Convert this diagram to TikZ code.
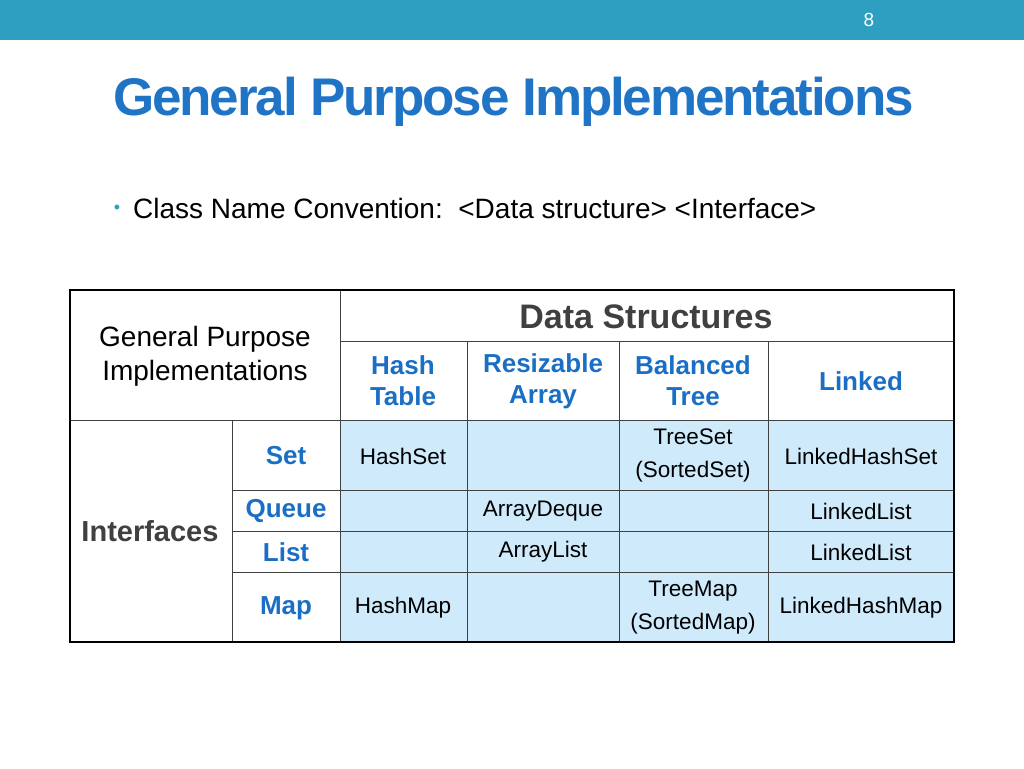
\documentclass[tikz,border=0pt]{standalone}
\usepackage{fontspec}
\setmainfont{Liberation Sans}
\definecolor{barteal}{HTML}{2E9FC0}
\definecolor{titleblue}{HTML}{1F74C6}
\definecolor{headblue}{HTML}{1A6FC4}
\definecolor{cellblue}{HTML}{CFEAFB}
\definecolor{darkgray}{HTML}{404040}
\tikzset{
  cell/.style={align=center, font=\fontsize{22.5}{33}\selectfont, inner sep=0pt},
  head/.style={align=center, font=\fontsize{26}{31}\selectfont\bfseries, text=headblue, inner sep=0pt},
  grid/.style={line width=1pt, draw=darkgray},
}
\begin{document}
\begin{tikzpicture}[x=1pt,y=-1pt]
	\useasboundingbox (0,0) rectangle (1024,768);
	\fill[barteal] (0,0) rectangle (1024,40);
	\node[text=white, font=\fontsize{19}{20}\selectfont] (page) at (869,20) {8};
	\node[anchor=base west, text=titleblue, font=\fontsize{53}{58}\selectfont\bfseries, inner sep=0pt] (title) at (113,115) {\addfontfeature{LetterSpace=-4}General Purpose Implementations};
	\node[text=barteal, font=\fontsize{18}{20}\selectfont, inner sep=0pt] (bullet) at (117,209) {•};
	\node[anchor=west, font=\fontsize{28}{32}\selectfont, inner sep=0pt] (conv) at (133,208) {Class Name Convention:\ \ <Data structure> <Interface>};
	% table
	\fill[cellblue] (340,420) rectangle (954,642);
	\draw[grid] (340,341) -- (954,341);
	\draw[grid] (70,420) -- (954,420);
	\draw[grid] (232,490) -- (954,490);
	\draw[grid] (232,531) -- (954,531);
	\draw[grid] (232,572) -- (954,572);
	\draw[grid] (232,420) -- (232,642);
	\draw[grid] (340,290) -- (340,642);
	\foreach \x in {467,619,768}
		\draw[grid] (\x,341) -- (\x,642);
	\draw[line width=2.5pt] (70,290) rectangle (954,642);
	% headers
	\node[font=\fontsize{34}{38}\selectfont\bfseries, text=darkgray, inner sep=0pt] (ds) at (646,317) {Data Structures};
	\node[align=center, font=\fontsize{28}{34}\selectfont, inner sep=0pt] (gpi) at (205,356) {General Purpose\\Implementations};
	\node[head] (hash) at (403,381) {Hash\\Table};
	\node[head] (resz) at (543,381) {Resizable\\Array};
	\node[head] (bal) at (693,381) {Balanced\\Tree};
	\node[head] (lnk) at (861,381) {Linked};
	\node[font=\fontsize{29}{32}\selectfont\bfseries, text=darkgray, inner sep=0pt] (intf) at (150,531) {Interfaces};
	\node[head] (set) at (286,456) {Set};
	\node[head] (queue) at (286,511) {Queue};
	\node[head] (list) at (286,552) {List};
	\node[head] (map) at (286,608) {Map};
	% cells
	\node[cell] (hset) at (403,456) {HashSet};
	\node[cell] (tset) at (693,455) {TreeSet\\(SortedSet)};
	\node[cell] (lhset) at (861,456) {LinkedHashSet};
	\node[cell] (adeq) at (543,511) {ArrayDeque};
	\node[cell] (llq) at (861,511) {LinkedList};
	\node[cell] (alist) at (543,552) {ArrayList};
	\node[cell] (lll) at (861,552) {LinkedList};
	\node[cell] (hmap) at (403,608) {HashMap};
	\node[cell] (tmap) at (693,608) {TreeMap\\(SortedMap)};
	\node[cell] (lhmap) at (861,608) {LinkedHashMap};
\end{tikzpicture}
\end{document}
